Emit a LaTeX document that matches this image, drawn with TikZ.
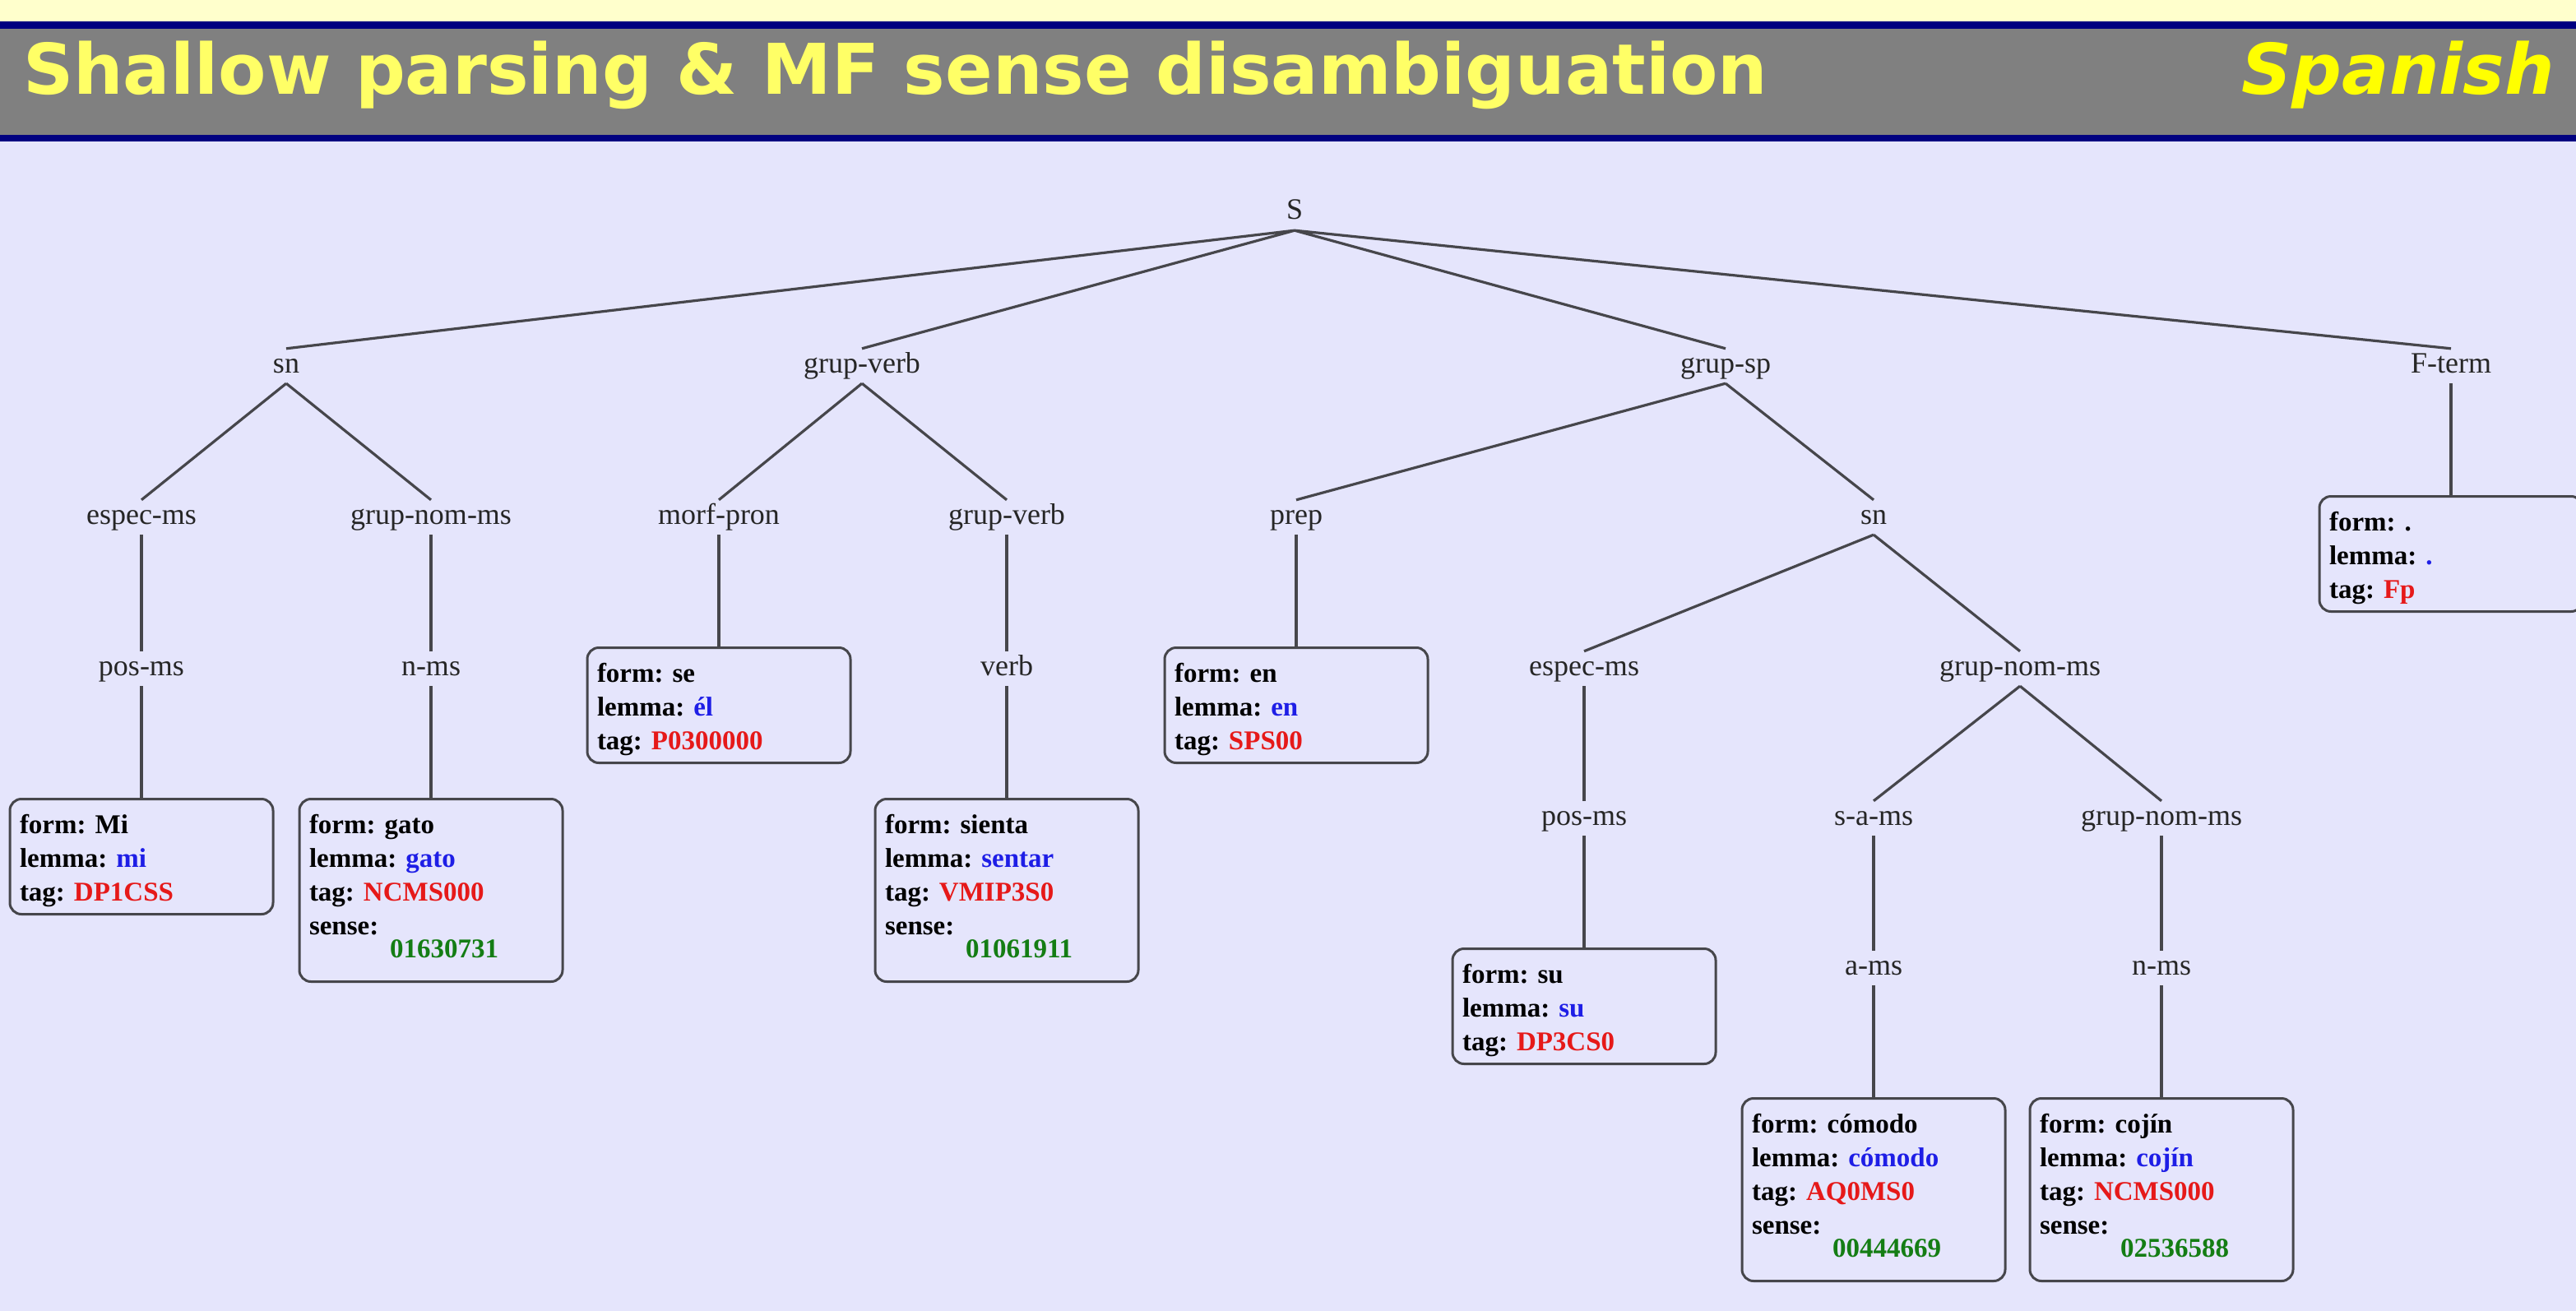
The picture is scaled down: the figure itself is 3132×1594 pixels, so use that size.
\documentclass[tikz,border=0pt]{standalone}
\usepackage{fontspec}
\setmainfont{Liberation Serif}
\newfontfamily\titlefont{DejaVu Sans}
\definecolor{topyellow}{RGB}{255,255,204}
\definecolor{hnavy}{RGB}{0,0,128}
\definecolor{hgray}{RGB}{128,128,128}
\definecolor{bglav}{RGB}{229,229,252}
\definecolor{titleyel}{RGB}{255,255,102}
\definecolor{spanyel}{RGB}{255,255,0}
\definecolor{lemcol}{RGB}{30,30,230}
\definecolor{tagcol}{RGB}{230,25,25}
\definecolor{sencol}{RGB}{20,125,20}
\definecolor{edgecol}{RGB}{70,70,75}
\begin{document}
\begin{tikzpicture}[x=1pt,y=-1pt,
  lbl/.style={font=\fontsize{36}{43}\selectfont, text height=25pt, text depth=9pt, inner ysep=4pt, inner xsep=2pt, text=black!85, yshift=-3pt},
  wbox/.style={draw=edgecol, line width=3pt, rounded corners=14pt, anchor=north,
    text width=296pt, inner xsep=12pt, inner ysep=0pt, align=flush left,
    font=\fontsize{33}{41}\selectfont\bfseries},
  edge/.style={draw=edgecol, line width=3.2pt}]
\useasboundingbox (0,0) rectangle (3132,1594);
% header
\fill[bglav] (0,0) rectangle (3132,1594);
\fill[topyellow] (0,0) rectangle (3132,26);
\fill[hnavy] (0,26) rectangle (3132,35);
\fill[hgray] (0,35) rectangle (3132,164);
\fill[hnavy] (0,164) rectangle (3132,172);
\node[anchor=base west, inner sep=0pt, text=titleyel, font=\titlefont\bfseries\fontsize{85}{100}\selectfont] (title) at (28,115) {Shallow parsing \& MF sense disambiguation};
\node[anchor=base east, inner sep=0pt, text=spanyel, font=\titlefont\bfseries\itshape\fontsize{85}{100}\selectfont] (lang) at (3106,115) {Spanish};
% tree labels
\node[lbl] (S) at (1574,256) {S};
\node[lbl] (sn1) at (348,442) {sn};
\node[lbl] (gv1) at (1048,442) {grup-verb};
\node[lbl] (gsp) at (2098,442) {grup-sp};
\node[lbl] (ft) at (2980,442) {F-term};
\node[lbl] (em1) at (172,626) {espec-ms};
\node[lbl] (gnm1) at (524,626) {grup-nom-ms};
\node[lbl] (mp) at (874,626) {morf-pron};
\node[lbl] (gv2) at (1224,626) {grup-verb};
\node[lbl] (prep) at (1576,626) {prep};
\node[lbl] (sn2) at (2278,626) {sn};
\node[lbl] (pm1) at (172,810) {pos-ms};
\node[lbl] (nms1) at (524,810) {n-ms};
\node[lbl] (verb) at (1224,810) {verb};
\node[lbl] (em2) at (1926,810) {espec-ms};
\node[lbl] (gnm2) at (2456,810) {grup-nom-ms};
\node[lbl] (pm2) at (1926,992) {pos-ms};
\node[lbl] (sam) at (2278,992) {s-a-ms};
\node[lbl] (gnm3) at (2628,992) {grup-nom-ms};
\node[lbl] (ams) at (2278,1174) {a-ms};
\node[lbl] (nms2) at (2628,1174) {n-ms};
% word boxes
\node[wbox] (bmi) at (172,970) {\rule{0pt}{42pt}form: Mi\\lemma: \textcolor{lemcol}{mi}\\tag: \textcolor{tagcol}{DP1CSS}\rule[-16pt]{0pt}{16pt}};
\node[wbox] (bgato) at (524,970) {\rule{0pt}{42pt}form: gato\\lemma: \textcolor{lemcol}{gato}\\tag: \textcolor{tagcol}{NCMS000}\\sense:\\[-13pt]\hspace*{98pt}\textcolor{sencol}{01630731}\rule[-29pt]{0pt}{29pt}};
\node[wbox] (bse) at (874,786) {\rule{0pt}{42pt}form: se\\lemma: \textcolor{lemcol}{él}\\tag: \textcolor{tagcol}{P0300000}\rule[-16pt]{0pt}{16pt}};
\node[wbox] (bsienta) at (1224,970) {\rule{0pt}{42pt}form: sienta\\lemma: \textcolor{lemcol}{sentar}\\tag: \textcolor{tagcol}{VMIP3S0}\\sense:\\[-13pt]\hspace*{98pt}\textcolor{sencol}{01061911}\rule[-29pt]{0pt}{29pt}};
\node[wbox] (ben) at (1576,786) {\rule{0pt}{42pt}form: en\\lemma: \textcolor{lemcol}{en}\\tag: \textcolor{tagcol}{SPS00}\rule[-16pt]{0pt}{16pt}};
\node[wbox] (bsu) at (1926,1152) {\rule{0pt}{42pt}form: su\\lemma: \textcolor{lemcol}{su}\\tag: \textcolor{tagcol}{DP3CS0}\rule[-16pt]{0pt}{16pt}};
\node[wbox] (bcomodo) at (2278,1334) {\rule{0pt}{42pt}form: cómodo\\lemma: \textcolor{lemcol}{cómodo}\\tag: \textcolor{tagcol}{AQ0MS0}\\sense:\\[-13pt]\hspace*{98pt}\textcolor{sencol}{00444669}\rule[-29pt]{0pt}{29pt}};
\node[wbox] (bcojin) at (2628,1334) {\rule{0pt}{42pt}form: cojín\\lemma: \textcolor{lemcol}{cojín}\\tag: \textcolor{tagcol}{NCMS000}\\sense:\\[-13pt]\hspace*{98pt}\textcolor{sencol}{02536588}\rule[-29pt]{0pt}{29pt}};
\node[wbox] (bfp) at (2980,602) {\rule{0pt}{42pt}form: .\\lemma: \textcolor{lemcol}{.}\\tag: \textcolor{tagcol}{Fp}\rule[-16pt]{0pt}{16pt}};
% edges
\path[edge] (S.south) -- (sn1.north) (S.south) -- (gv1.north) (S.south) -- (gsp.north) (S.south) -- (ft.north);
\path[edge] (sn1.south) -- (em1.north) (sn1.south) -- (gnm1.north);
\path[edge] (gv1.south) -- (mp.north) (gv1.south) -- (gv2.north);
\path[edge] (gsp.south) -- (prep.north) (gsp.south) -- (sn2.north);
\path[edge] (ft.south) -- (bfp.north);
\path[edge] (em1.south) -- (pm1.north) (pm1.south) -- (bmi.north);
\path[edge] (gnm1.south) -- (nms1.north) (nms1.south) -- (bgato.north);
\path[edge] (mp.south) -- (bse.north);
\path[edge] (gv2.south) -- (verb.north) (verb.south) -- (bsienta.north);
\path[edge] (prep.south) -- (ben.north);
\path[edge] (sn2.south) -- (em2.north) (sn2.south) -- (gnm2.north);
\path[edge] (em2.south) -- (pm2.north) (pm2.south) -- (bsu.north);
\path[edge] (gnm2.south) -- (sam.north) (gnm2.south) -- (gnm3.north);
\path[edge] (sam.south) -- (ams.north) (ams.south) -- (bcomodo.north);
\path[edge] (gnm3.south) -- (nms2.north) (nms2.south) -- (bcojin.north);
\end{tikzpicture}
\end{document}
